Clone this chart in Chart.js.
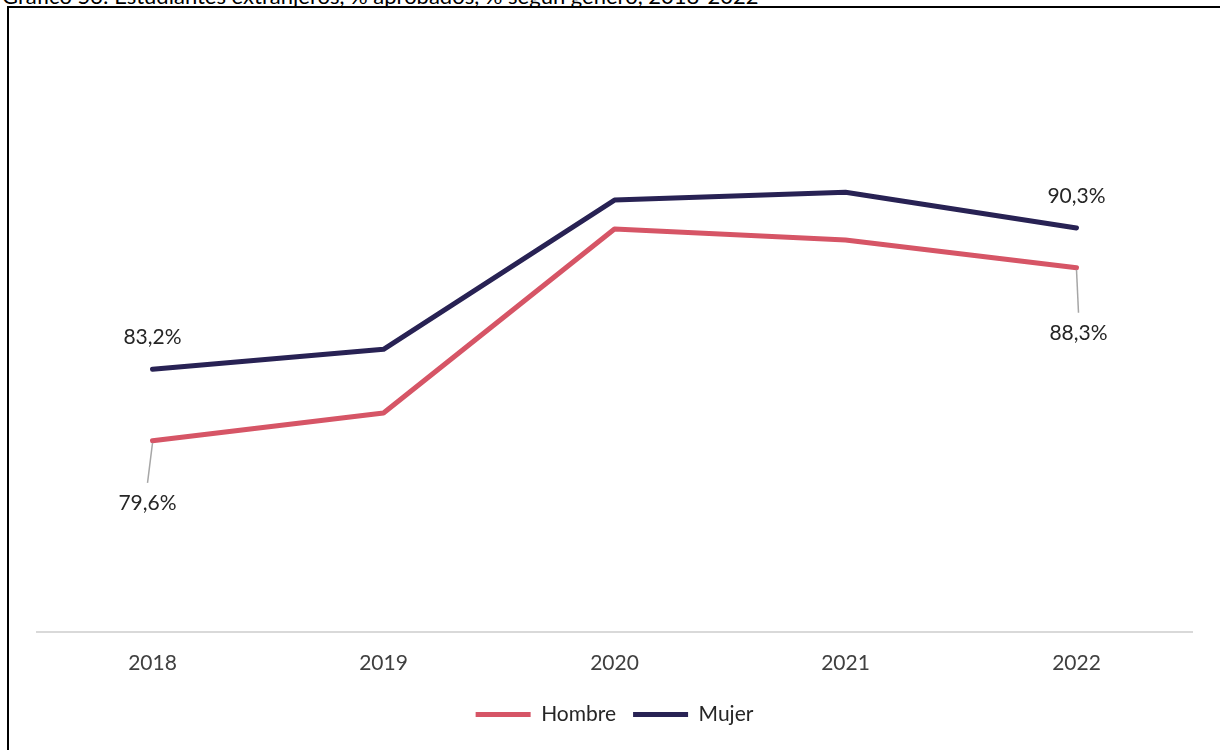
<!DOCTYPE html>
<html lang="es">
<head>
    <meta charset="UTF-8">
    <title>Estudiantes extranjeros aprobados según género</title>
    <script src="https://cdn.jsdelivr.net/npm/chart.js"></script>
    <style>
        body {
            margin: 0;
            width: 1220px;
            height: 750px;
            overflow: hidden;
            background: #ffffff;
            font-family: Lato, "Noto Sans", sans-serif;
            position: relative;
        }
        .titulo {
            position: absolute;
            left: 2px;
            top: -18px;
            font-size: 22px;
            color: #000;
            white-space: nowrap;
        }
        .marco {
            position: absolute;
            left: 7px;
            top: 6px;
            width: 1300px;
            height: 900px;
            border-left: 2px solid #000;
            border-top: 2px solid #000;
        }
        canvas {
            position: absolute;
            left: 0;
            top: 0;
        }
    </style>
</head>
<body>

    <div class="titulo">Gráfico 53: Estudiantes extranjeros, % aprobados, % según género, 2018-2022</div>
    <div class="marco"></div>
    <canvas id="grafico" width="1220" height="750"></canvas>

    <script>
        // datos del gráfico
        const anios = ["2018", "2019", "2020", "2021", "2022"];
        const hombre = [79.6, 81.0, 90.25, 89.7, 88.3];
        const mujer = [83.2, 84.2, 91.7, 92.1, 90.3];

        const rojo = "#D65566";
        const azul = "#282254";
        const fuente = "Lato, 'Noto Sans', sans-serif";

        function formato(v) {
            return v.toFixed(1).replace(".", ",") + "%";
        }

        // etiquetas sólo en el primer y último punto
        const etiquetas = {
            id: "etiquetas",
            afterDatasetsDraw(chart) {
                const ctx = chart.ctx;
                ctx.save();
                ctx.font = "21px " + fuente;
                ctx.fillStyle = "#262626";
                ctx.textAlign = "center";
                ctx.textBaseline = "middle";

                // Mujer: encima
                const mMeta = chart.getDatasetMeta(1);
                [0, mujer.length - 1].forEach(i => {
                    const p = mMeta.data[i];
                    ctx.fillText(formato(mujer[i]), p.x, p.y - 32);
                });

                // Hombre: debajo con línea guía
                const hMeta = chart.getDatasetMeta(0);
                const desp = [[-5, 62], [2, 65]];
                [0, hombre.length - 1].forEach((i, k) => {
                    const p = hMeta.data[i];
                    const dx = desp[k][0], dy = desp[k][1];
                    ctx.strokeStyle = "#A6A6A6";
                    ctx.lineWidth = 1.5;
                    ctx.beginPath();
                    ctx.moveTo(p.x, p.y + 2);
                    ctx.lineTo(p.x + dx, p.y + dy - 20);
                    ctx.stroke();
                    ctx.fillText(formato(hombre[i]), p.x + dx, p.y + dy);
                });
                ctx.restore();
            }
        };

        new Chart(document.getElementById("grafico"), {
            type: "line",
            data: {
                labels: anios,
                datasets: [
                    {
                        label: "Hombre",
                        data: hombre,
                        borderColor: rojo,
                        backgroundColor: rojo,
                        borderWidth: 5,
                        borderCapStyle: "round",
                        borderJoinStyle: "round",
                        pointRadius: 0,
                        tension: 0
                    },
                    {
                        label: "Mujer",
                        data: mujer,
                        borderColor: azul,
                        backgroundColor: azul,
                        borderWidth: 5,
                        borderCapStyle: "round",
                        borderJoinStyle: "round",
                        pointRadius: 0,
                        tension: 0
                    }
                ]
            },
            options: {
                responsive: false,
                animation: false,
                layout: {
                    padding: { left: 37, right: 28, top: 35, bottom: 15 }
                },
                scales: {
                    x: {
                        offset: true,
                        grid: { display: false },
                        border: { display: true, color: "#D9D9D9", width: 2 },
                        ticks: {
                            color: "#404040",
                            padding: 11,
                            font: { family: fuente, size: 21 }
                        }
                    },
                    y: {
                        display: false,
                        min: 70,
                        max: 100
                    }
                },
                plugins: {
                    legend: {
                        position: "bottom",
                        labels: {
                            usePointStyle: true,
                            pointStyleWidth: 55,
                            pointStyle: "line",
                            boxHeight: 5,
                            padding: 17,
                            color: "#262626",
                            font: { family: fuente, size: 21 }
                        }
                    },
                    tooltip: { enabled: false }
                }
            },
            plugins: [etiquetas]
        });
    </script>

</body>
</html>
